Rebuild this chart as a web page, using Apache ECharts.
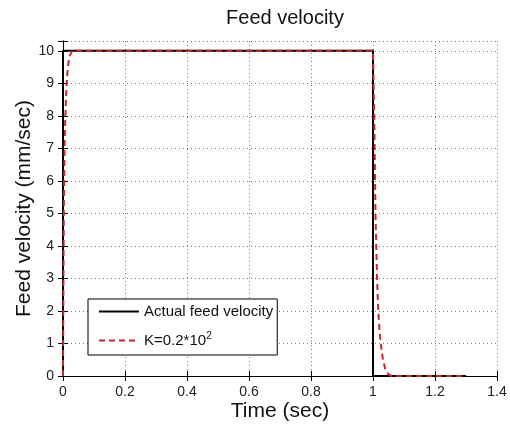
<!DOCTYPE html>
<html>
<head>
<meta charset="utf-8">
<script src="https://cdn.jsdelivr.net/npm/echarts@6/dist/echarts.min.js"></script>
<style>
html,body{margin:0;padding:0;background:#fff;}
#chart{width:510px;height:427px;}
</style>
</head>
<body>
<div id="chart"></div>
<script>
// ---- data ----
var xTicks = [0, 0.2, 0.4, 0.6, 0.8, 1, 1.2, 1.4];
var yTicks = [0, 1, 2, 3, 4, 5, 6, 7, 8, 9, 10];

var actualTime = [0, 0, 1.0, 1.0, 1.3];
var actualVel  = [0, 10, 10, 0, 0];

var kTime = [0, 0.001, 0.002, 0.003, 0.005, 0.007, 0.010, 0.013, 0.017, 0.022, 0.030, 1.0,
             1.002, 1.004, 1.006, 1.008, 1.011, 1.013, 1.017, 1.021, 1.025, 1.032, 1.040, 1.050, 1.060, 1.3];
var kVel  = [0, 2.0, 4.0, 5.5, 7.0, 7.8, 8.6, 9.2, 9.6, 9.85, 10, 10,
             9.0, 8.0, 6.5, 5.0, 3.8, 3.0, 2.0, 1.4, 1.0, 0.5, 0.2, 0.05, 0, 0];

var seriesNames = ['Actual feed velocity', 'K=0.2*10{sup|2}'];

function pairs(xs, ys) { return xs.map(function (x, i) { return [x, ys[i]]; }); }

var chart = echarts.init(document.getElementById('chart'), null, {renderer: 'canvas'});
var font = 'Liberation Sans, Arial, sans-serif';
var grid = {left: 63, top: 41, width: 434, height: 336};

var option = {
  backgroundColor: '#fff',
  animation: false,
  title: {
    text: 'Feed velocity', left: 280, top: 3, textAlign: 'center',
    textStyle: {fontFamily: font, fontSize: 20, fontWeight: 'normal', color: '#111'}
  },
  legend: {
    orient: 'vertical', left: 88, top: 299,
    padding: [5, 4, 7, 10], itemGap: 12,
    itemWidth: 40, itemHeight: 14,
    backgroundColor: '#fff', borderColor: '#000', borderWidth: 1,
    itemStyle: {opacity: 0},
    data: seriesNames,
    textStyle: {
      fontFamily: font, fontSize: 15, color: '#111',
      rich: {sup: {fontSize: 10, verticalAlign: 'top', padding: [0, 0, 9, 0], fontFamily: font, color: '#111'}}
    }
  },
  grid: grid,
  xAxis: [{
    type: 'value', min: 0, max: 1.4, interval: 0.2,
    name: 'Time (sec)', nameLocation: 'middle', nameGap: 25, nameMoveOverlap: false,
    nameTextStyle: {fontFamily: font, fontSize: 21, color: '#111'},
    axisLine: {show: true, lineStyle: {color: '#000', width: 1}},
    axisTick: {show: true, inside: true, length: 5, lineStyle: {color: '#000'}},
    axisLabel: {fontFamily: font, fontSize: 14, color: '#222', margin: 9,
      formatter: function (v) { return String(Math.round(v * 10) / 10); }},
    splitLine: {show: true, lineStyle: {color: '#777', type: [1, 3], width: 1}}
  }, {
    type: 'value', min: 0, max: 1.4, interval: 0.2, position: 'top',
    axisLine: {show: true, lineStyle: {color: '#000', width: 1}},
    axisTick: {show: true, inside: true, length: 5, lineStyle: {color: '#000'}},
    axisLabel: {show: false}, splitLine: {show: false}
  }],
  yAxis: [{
    type: 'value', min: 0, max: 10.3, interval: 1,
    name: 'Feed velocity (mm/sec)', nameLocation: 'middle', nameGap: 28, nameMoveOverlap: false,
    nameTextStyle: {fontFamily: font, fontSize: 21, color: '#111'},
    axisLine: {show: true, lineStyle: {color: '#000', width: 1}},
    axisTick: {show: true, inside: true, length: 5, lineStyle: {color: '#000'}},
    axisLabel: {fontFamily: font, fontSize: 14, color: '#222', margin: 9,
      formatter: function (v) { return yTicks.indexOf(Math.round(v * 100) / 100) >= 0 ? String(v) : ''; }},
    splitLine: {show: true, lineStyle: {color: '#777', type: [1, 3], width: 1}}
  }, {
    type: 'value', min: 0, max: 10.3, interval: 1, position: 'right',
    axisLine: {show: true, lineStyle: {color: '#000', width: 1}},
    axisTick: {show: true, inside: true, length: 5, lineStyle: {color: '#000'}},
    axisLabel: {show: false}, splitLine: {show: false}
  }],
  series: [{
    name: seriesNames[0], type: 'line', xAxisIndex: 0, yAxisIndex: 0,
    data: pairs(actualTime, actualVel),
    showSymbol: false, symbol: 'none',
    lineStyle: {color: '#000', width: 2},
    itemStyle: {color: '#000'}
  }, {
    name: seriesNames[1], type: 'line', xAxisIndex: 0, yAxisIndex: 0,
    data: pairs(kTime, kVel),
    showSymbol: false, symbol: 'none',
    lineStyle: {color: '#c4282e', width: 2, type: [6, 4]},
    itemStyle: {color: '#c4282e'}
  }]
};
chart.setOption(option);
</script>
</body>
</html>
